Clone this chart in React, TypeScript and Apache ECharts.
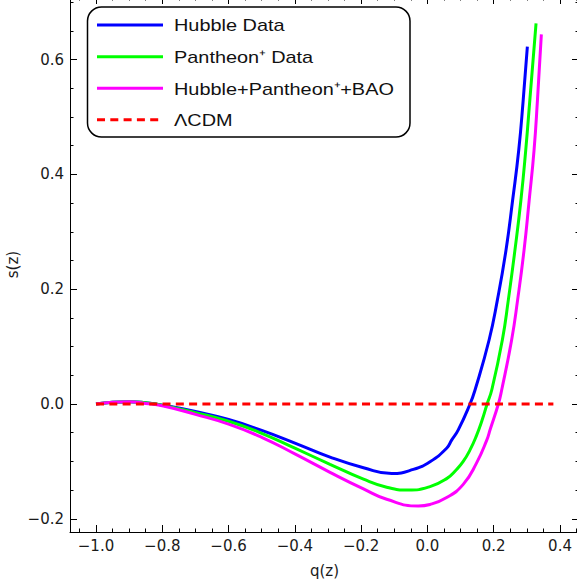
import React, { useEffect, useRef } from "react";
import * as echarts from "echarts";

const seriesNames = ["Hubble Data", "Pantheon⁺ Data", "Hubble+Pantheon⁺+BAO", "ΛCDM"];
const seriesColors = ["#0000ff", "#00ff00", "#ff00ff", "#ff0000"];

const hubblePoints: number[][] = [
  [-1.0, 0], [-0.95, 0.003], [-0.9, 0.004], [-0.85, 0.002], [-0.8, -0.002],
  [-0.7, -0.013], [-0.6, -0.027], [-0.5, -0.046], [-0.4, -0.068], [-0.294, -0.0925],
  [-0.193, -0.111], [-0.108, -0.121], [-0.0425, -0.114],
  [0.0078, -0.1005], [0.058, -0.077], [0.073, -0.063], [0.093, -0.045],
  [0.1285, 0], [0.1436, 0.0244], [0.186, 0.1115], [0.211, 0.181], [0.237, 0.268],
  [0.257, 0.355], [0.2755, 0.4425], [0.289, 0.53], [0.3015, 0.6225],
];

const pantheonPoints: number[][] = [
  [-1.0, 0], [-0.95, 0.003], [-0.9, 0.004], [-0.85, 0.002], [-0.8, -0.002],
  [-0.7, -0.015], [-0.6, -0.03], [-0.5, -0.051], [-0.4, -0.077], [-0.294, -0.105],
  [-0.193, -0.131], [-0.123, -0.145], [-0.0576, -0.150],
  [0.0078, -0.144], [0.058, -0.130], [0.088, -0.114], [0.108, -0.100], [0.1285, -0.080],
  [0.148, -0.055], [0.165, -0.028], [0.180, 0], [0.194, 0.0244], [0.226, 0.1115],
  [0.244, 0.181], [0.264, 0.268], [0.282, 0.355], [0.2966, 0.4425], [0.309, 0.53], [0.3277, 0.663],
];

const combinedPoints: number[][] = [
  [-1.0, 0], [-0.95, 0.003], [-0.9, 0.004], [-0.85, 0.001], [-0.8, -0.003],
  [-0.7, -0.018], [-0.6, -0.035], [-0.5, -0.058], [-0.4, -0.087], [-0.294, -0.119],
  [-0.193, -0.148], [-0.123, -0.166], [-0.0274, -0.1777],
  [0.0078, -0.175], [0.058, -0.163], [0.108, -0.140], [0.148, -0.103],
  [0.179, -0.063], [0.189, -0.045], [0.214, 0], [0.224, 0.0244], [0.254, 0.1115],
  [0.272, 0.181], [0.2915, 0.268], [0.307, 0.355], [0.3217, 0.4425], [0.332, 0.53], [0.3437, 0.644],
];

const lcdmPoints: number[][] = [
  [-1.0, 0], [0.38, 0],
];

const qTicks = [-1.0, -0.8, -0.6, -0.4, -0.2, 0.0, 0.2, 0.4];
const qMinorTicks = [
  -1.05, -0.95, -0.9, -0.85, -0.75, -0.7, -0.65, -0.55, -0.5, -0.45, -0.35, -0.3, -0.25,
  -0.15, -0.1, -0.05, 0.05, 0.1, 0.15, 0.25, 0.3, 0.35, 0.45,
];
const sTicks = [-0.2, 0.0, 0.2, 0.4, 0.6];
const sMinorTicks = [
  -0.15, -0.1, -0.05, 0.05, 0.1, 0.15, 0.25, 0.3, 0.35, 0.45, 0.5, 0.55, 0.65, 0.7,
];

const Q_MIN = -1.0785;
const Q_MAX = 0.4573;
const S_MIN = -0.223;
const S_MAX = 0.7091;

const FONT = "DejaVu Sans";
const LEGEND_FONT = "Liberation Sans";

const fmt = (v: number) => (v < 0 ? "\u2212" : "") + Math.abs(v).toFixed(1);

export default function App() {
  const ref = useRef<HTMLDivElement>(null);

  useEffect(() => {
    if (!ref.current) return;
    const chart = echarts.init(ref.current, undefined, { renderer: "svg" });

    const axisBase = (type: "x" | "y", pos: string, major: boolean, labels: boolean) => {
      const isX = type === "x";
      return {
        type: "value",
        position: pos,
        min: isX ? Q_MIN : S_MIN,
        max: isX ? Q_MAX : S_MAX,
        splitLine: { show: false },
        axisLine: { show: major, onZero: false, lineStyle: { color: "#000", width: 1 } },
        axisTick: {
          show: true,
          inside: true,
          length: major ? 7 : 3.5,
          customValues: major ? (isX ? qTicks : sTicks) : (isX ? qMinorTicks : sMinorTicks),
          lineStyle: { color: "#000", width: 1 },
        },
        axisLabel: {
          show: labels,
          customValues: isX ? qTicks : sTicks,
          formatter: (v: number) => fmt(v),
          color: "#1a1a1a",
          fontSize: 15,
          fontFamily: FONT,
          margin: 6,
        },
      };
    };

    const xAxes: any[] = [
      {
        ...axisBase("x", "bottom", true, true),
        name: "q(z)",
        nameLocation: "middle",
        nameGap: 31,
        nameMoveOverlap: false,
        nameTextStyle: { color: "#1a1a1a", fontSize: 15, fontFamily: FONT },
      },
      axisBase("x", "bottom", false, false),
      axisBase("x", "top", true, false),
      axisBase("x", "top", false, false),
    ];
    const yAxes: any[] = [
      {
        ...axisBase("y", "left", true, true),
        name: "s(z)",
        nameLocation: "middle",
        nameGap: 50,
        nameRotate: 90,
        nameMoveOverlap: false,
        nameTextStyle: { color: "#1a1a1a", fontSize: 15, fontFamily: FONT },
      },
      axisBase("y", "left", false, false),
      axisBase("y", "right", true, false),
      axisBase("y", "right", false, false),
    ];

    const dataSets = [hubblePoints, pantheonPoints, combinedPoints, lcdmPoints];

    const series = dataSets.map((d, i) => ({
      name: seriesNames[i],
      type: "line",
      data: d,
      xAxisIndex: 0,
      yAxisIndex: 0,
      showSymbol: false,
      symbol: "none",
      smooth: i === 3 ? false : 0.5,
      lineStyle: {
        color: seriesColors[i],
        width: 3,
        type: i === 3 ? [8, 5.3] : "solid",
      },
      z: 2 + i,
    }));

    const rowY = [25, 56.7, 88.3, 119.7];
    const legendGraphics: any[] = [
      {
        type: "rect",
        shape: { x: 87.5, y: 7, width: 322.5, height: 130, r: 14 },
        style: { fill: "#ffffff", stroke: "#000000", lineWidth: 1.5 },
        z: 10,
      },
    ];
    seriesNames.forEach((name, i) => {
      legendGraphics.push({
        type: "line",
        shape: { x1: 97, y1: rowY[i], x2: 163, y2: rowY[i] },
        style: {
          stroke: seriesColors[i],
          lineWidth: 3,
          lineDash: i === 3 ? [8, 5.3] : null,
        },
        z: 11,
      });
      legendGraphics.push({
        type: "text",
        x: 174,
        y: rowY[i] + 0.5,
        scaleX: 1.17,
        style: {
          text: name,
          fontSize: 17,
          fontFamily: LEGEND_FONT,
          fill: "#111111",
          verticalAlign: "middle",
          align: "left",
        },
        z: 11,
      });
    });

    chart.setOption({
      animation: false,
      backgroundColor: "#ffffff",
      grid: {
        left: 70,
        right: -2,
        top: -3,
        bottom: 53,
        containLabel: false,
        outerBoundsMode: "none",
      },
      xAxis: xAxes,
      yAxis: yAxes,
      series,
      graphic: legendGraphics,
    });

    return () => chart.dispose();
  }, []);

  return (
    <div
      ref={ref}
      style={{ position: "fixed", left: 0, top: 0, width: 577, height: 585 }}
    />
  );
}
